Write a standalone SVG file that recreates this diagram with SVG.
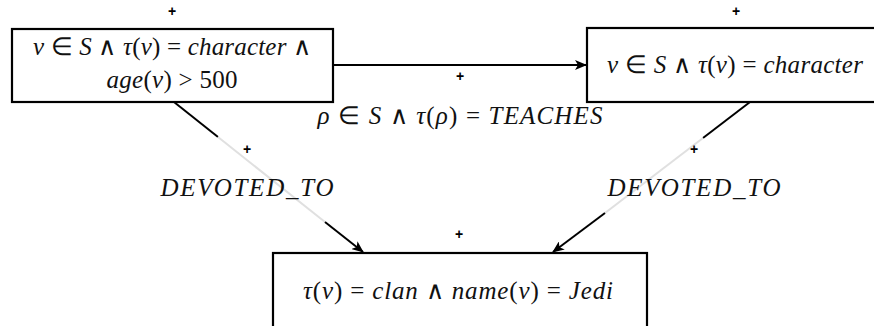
<svg xmlns="http://www.w3.org/2000/svg" width="874" height="326" viewBox="0 0 874 326">
<style>
.box{fill:#fff;stroke:#000;stroke-width:2.2}
.m{font-family:"Liberation Serif","Times New Roman",serif;font-size:25px;fill:#111}
.i{font-style:italic}
.plus{font-family:"Liberation Sans",Arial,sans-serif;font-size:14px;font-weight:bold;fill:#000;text-anchor:middle}
.e{stroke:#000;stroke-width:2;fill:none}
.fade{stroke:#e0e0e0;stroke-width:2;fill:none}
</style>
<defs>
<marker id="ah" viewBox="0 0 12 10" refX="11" refY="5" markerWidth="12" markerHeight="10" markerUnits="userSpaceOnUse" orient="auto">
<path d="M0,0 L12,5 L0,10 L3,5 Z" fill="#000"/>
</marker>
</defs>
<rect width="874" height="326" fill="#fff"/>
<g id="connectors">
<line class="e" x1="333" y1="65" x2="586" y2="65" marker-end="url(#ah)"/>
<line class="e" x1="174" y1="102" x2="218" y2="137"/>
<line class="fade" x1="218" y1="137" x2="325" y2="222"/>
<line class="e" x1="325" y1="222" x2="363" y2="252" marker-end="url(#ah)"/>
<line class="e" x1="750" y1="102" x2="703" y2="138"/>
<line class="fade" x1="703" y1="138" x2="605" y2="213"/>
<line class="e" x1="605" y1="213" x2="553" y2="252" marker-end="url(#ah)"/>
<text class="plus" x="460" y="81">+</text>
<text class="m" x="460" y="124" text-anchor="middle" textLength="285" lengthAdjust="spacing"><tspan class="i">ρ</tspan> ∈ <tspan class="i">S</tspan> ∧ <tspan class="i">τ</tspan>(<tspan class="i">ρ</tspan>) = <tspan class="i">TEACHES</tspan></text>
<text class="plus" x="247" y="154">+</text>
<text class="m i" x="247" y="196" text-anchor="middle" textLength="173" lengthAdjust="spacing">DEVOTED_TO</text>
<text class="plus" x="694" y="154">+</text>
<text class="m i" x="694" y="196" text-anchor="middle" textLength="173" lengthAdjust="spacing">DEVOTED_TO</text>
</g>
<g id="n1">
<text class="plus" x="172" y="16">+</text>
<rect class="box" x="12" y="29" width="321" height="73"/>
<text class="m" x="172" y="55" text-anchor="middle" textLength="278" lengthAdjust="spacing"><tspan class="i">v</tspan> ∈ <tspan class="i">S</tspan> ∧ <tspan class="i">τ</tspan>(<tspan class="i">v</tspan>) = <tspan class="i">character</tspan> ∧</text>
<text class="m" x="172" y="88" text-anchor="middle" textLength="131" lengthAdjust="spacing"><tspan class="i">age</tspan>(<tspan class="i">v</tspan>) &gt; 500</text>
</g>
<g id="n2">
<text class="plus" x="736" y="16">+</text>
<rect class="box" x="587" y="28" width="300" height="74"/>
<text class="m" x="735" y="73" text-anchor="middle" textLength="256" lengthAdjust="spacing"><tspan class="i">v</tspan> ∈ <tspan class="i">S</tspan> ∧ <tspan class="i">τ</tspan>(<tspan class="i">v</tspan>) = <tspan class="i">character</tspan></text>
</g>
<g id="n3">
<text class="plus" x="459" y="239">+</text>
<rect class="box" x="273" y="253" width="374" height="90"/>
<text class="m" x="458" y="299" text-anchor="middle" textLength="310" lengthAdjust="spacing"><tspan class="i">τ</tspan>(<tspan class="i">v</tspan>) = <tspan class="i">clan</tspan> ∧ <tspan class="i">name</tspan>(<tspan class="i">v</tspan>) = <tspan class="i">Jedi</tspan></text>
</g>
</svg>
